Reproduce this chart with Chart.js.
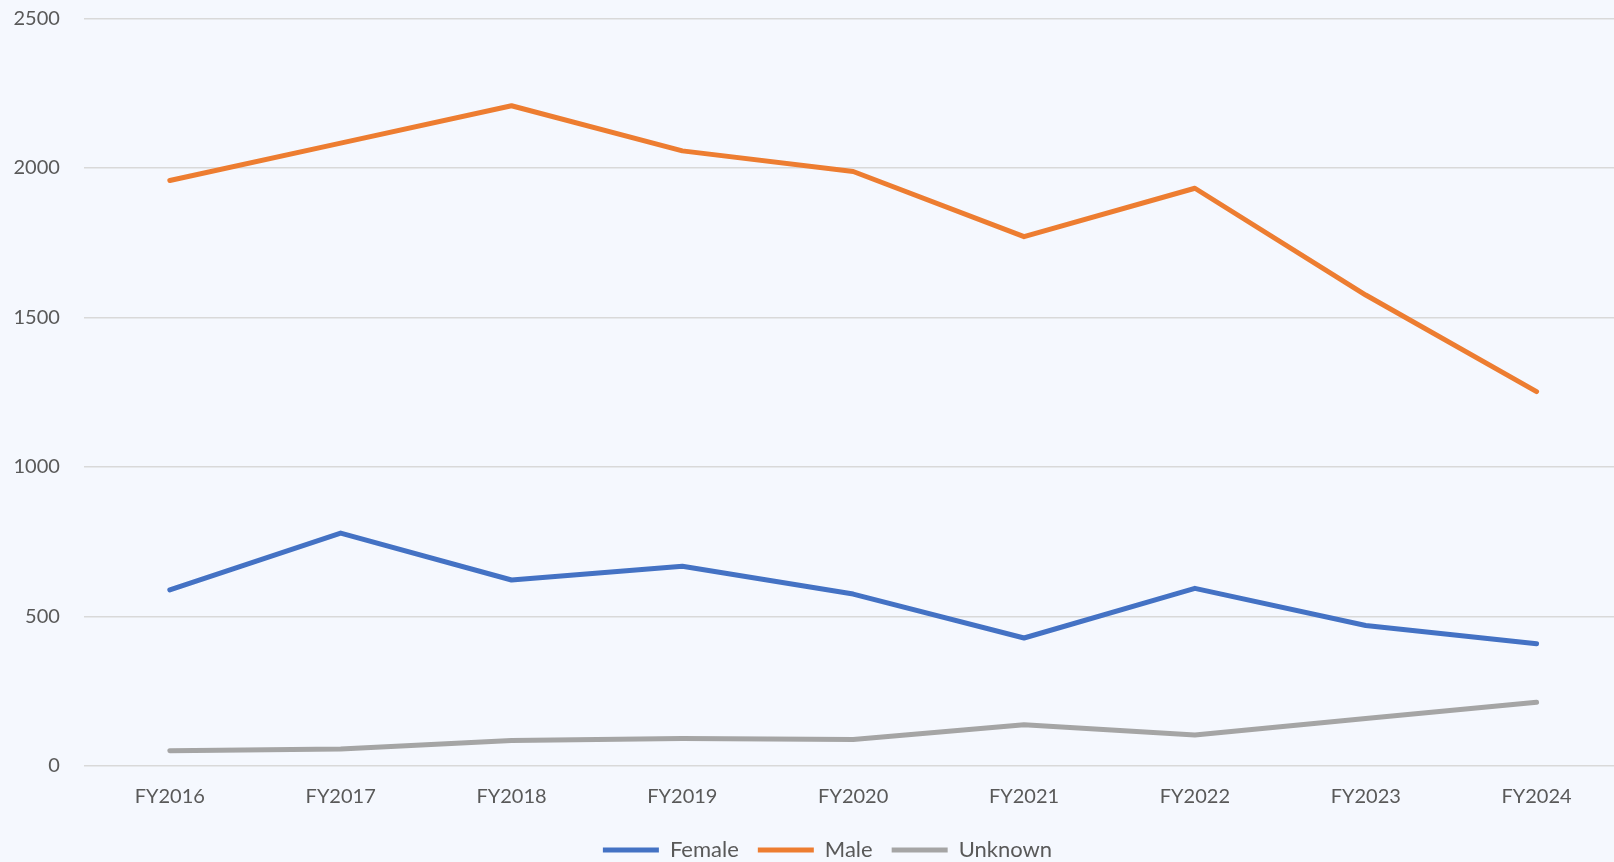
<!DOCTYPE html>
<html>
<head>
<meta charset="utf-8">
<script src="https://cdn.jsdelivr.net/npm/chart.js@4/dist/chart.umd.min.js"></script>
<style>
  html, body { margin: 0; padding: 0; background: #F5F8FE; overflow: hidden; }
  #wrap { position: relative; width: 1622px; height: 871px; }
</style>
</head>
<body>
<div id="wrap"><canvas id="chart"></canvas></div>
<script>
// ---------- dados ----------
const years = ['FY2016', 'FY2017', 'FY2018', 'FY2019', 'FY2020', 'FY2021', 'FY2022', 'FY2023', 'FY2024'];
const female = [589, 779, 622, 668, 575, 428, 594, 470, 409];
const male = [1958, 2083, 2208, 2057, 1988, 1770, 1932, 1575, 1252];
const unknown = [51, 57, 85, 92, 89, 138, 104, 159, 213];

const TXT = '#595959';
const GRID = '#D9D9D9';

Chart.defaults.font.family = 'Lato, "Open Sans", sans-serif';
Chart.defaults.color = TXT;

function lineDS(label, data, color) {
  return {
    label, data, borderColor: color, backgroundColor: color, borderWidth: 5,
    pointRadius: 0, pointHoverRadius: 0, tension: 0,
    borderCapStyle: 'round', borderJoinStyle: 'round',
  };
}

// empurra a legenda um pouco para a direita (centro do original)
const shiftLegend = {
  id: 'shiftLegend',
  afterLayout(chart) {
    if (chart.legend) { chart.legend.left += 11.5; chart.legend.right += 11.5; }
  },
};

new Chart(document.getElementById('chart'), {
  type: 'line',
  data: {
    labels: years,
    datasets: [
      lineDS('Female', female, '#4472C4'),
      lineDS('Male', male, '#ED7D31'),
      lineDS('Unknown', unknown, '#A5A5A5'),
    ],
  },
  plugins: [shiftLegend],
  options: {
    responsive: true, maintainAspectRatio: false, animation: false,
    layout: { padding: { left: 10, right: 0, top: 18.4, bottom: 0 } },
    plugins: {
      tooltip: { enabled: false },
      legend: {
        position: 'bottom',
        labels: {
          usePointStyle: true, pointStyle: 'line', pointStyleWidth: 56,
          padding: 19, color: TXT, font: { size: 22 },
        },
      },
    },
    scales: {
      x: {
        offset: true,
        grid: { display: false, drawTicks: false },
        border: { display: false },
        ticks: { color: TXT, font: { size: 20 }, padding: 19, maxRotation: 0 },
        afterFit: (s) => { s.height -= 8; },
      },
      y: {
        min: 0, max: 2500,
        grid: { color: GRID, lineWidth: 1.5, drawTicks: false },
        border: { display: false },
        ticks: { stepSize: 500, color: TXT, font: { size: 20 }, padding: 24.5, callback: (v) => String(v) },
        afterFit: (s) => { s.width = 74.4; s.paddingTop = 0; s.paddingBottom = 0; },
      },
    },
  },
});
</script>
</body>
</html>
